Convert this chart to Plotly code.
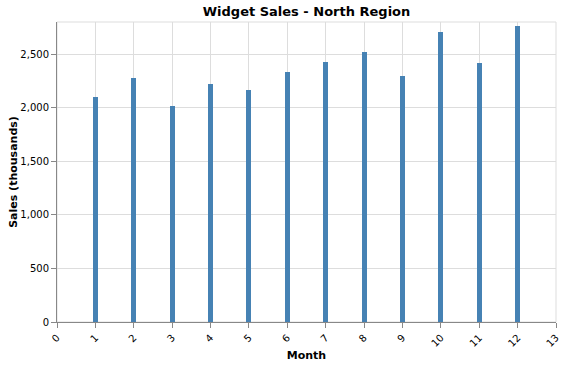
import plotly.graph_objects as go

months = [1, 2, 3, 4, 5, 6, 7, 8, 9, 10, 11, 12]
sales = [2100, 2280, 2020, 2220, 2170, 2330, 2430, 2520, 2300, 2710, 2420, 2760]
y_ticks = [0, 500, 1000, 1500, 2000, 2500]
x_ticks = list(range(0, 14))

font = "DejaVu Sans, Verdana, sans-serif"

fig = go.Figure(go.Bar(
    x=months, y=sales, width=0.13,
    marker=dict(color="#4682b4", line=dict(width=0)),
))

fig.update_layout(
    width=569, height=366,
    margin=dict(l=57, r=13, t=22, b=44, autoexpand=False),
    paper_bgcolor="white", plot_bgcolor="white",
    font=dict(family=font, size=10, color="#000"),
    title=dict(text="<b>Widget Sales - North Region</b>", xref="paper", x=0.5, xanchor="center",
               y=1 - 11 / 366, yanchor="middle", font=dict(size=13, family=font, color="#000")),
    showlegend=False,
    bargap=0,
    shapes=[dict(type="rect", xref="paper", yref="paper", x0=0, x1=1, y0=0, y1=1,
                 line=dict(color="#ddd", width=1), layer="below")],
)

fig.update_xaxes(
    range=[0, 13], tickmode="array", tickvals=x_ticks, ticktext=[str(v) for v in x_ticks],
    tickangle=-45, showgrid=True, gridcolor="#ddd", gridwidth=1, zeroline=False,
    showline=True, linecolor="#888", linewidth=1, automargin=False,
    ticks="outside", ticklen=5, tickcolor="#888",
    tickfont=dict(size=10, family=font, color="#000"),
    title=dict(text="<b>Month</b>", font=dict(size=11, family=font, color="#000"), standoff=3),
)
fig.update_yaxes(
    range=[0, 2800], tickmode="array", tickvals=y_ticks, tickformat=",",
    showgrid=True, gridcolor="#ddd", gridwidth=1, zeroline=False,
    showline=True, linecolor="#888", linewidth=1, automargin=False,
    ticks="outside", ticklen=5, tickcolor="#888",
    tickfont=dict(size=10, family=font, color="#000"),
    title=dict(text="<b>Sales (thousands)</b>", font=dict(size=11, family=font, color="#000"), standoff=0),
)

fig.write_html("out.html")
